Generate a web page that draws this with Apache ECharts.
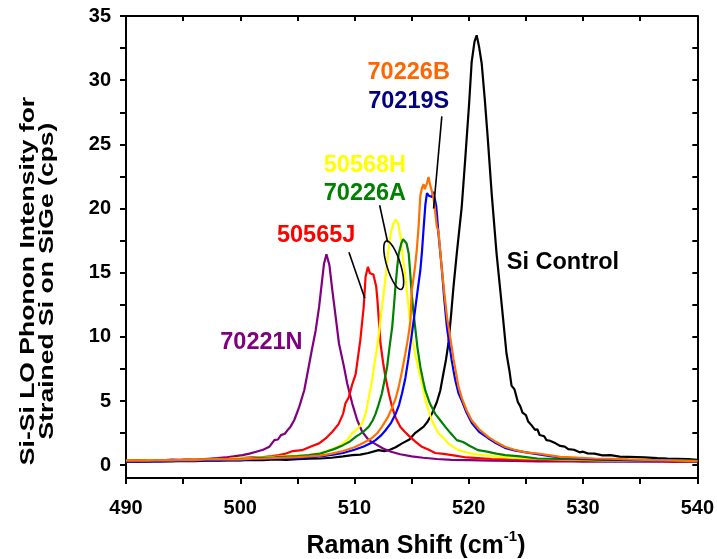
<!DOCTYPE html>
<html><head><meta charset="utf-8">
<script src="https://cdn.jsdelivr.net/npm/echarts@6/dist/echarts.min.js"></script>
<style>html,body{margin:0;padding:0;background:#fff}#c{width:717px;height:559px}</style>
</head><body><div id="c"></div>
<script>
// ---------- axis ticks / labels ----------
const xTickLabels = [490, 500, 510, 520, 530, 540];
const xTickMarks = [490, 495, 500, 505, 510, 515, 520, 525, 530, 535, 540];
const yTickLabels = [0, 5, 10, 15, 20, 25, 30, 35];
const yTickMarks = [0, 2.5, 5, 7.5, 10, 12.5, 15, 17.5, 20, 22.5, 25, 27.5, 30, 32.5, 35];

// ---------- series data (Raman shift, intensity) ----------
const xSiControl = [490,491,492,493,494,495,496,497,498,499,500,501,502,503,504,505,506,507,508,509,509.8,510.5,511.2,512.1,512.6,513.0,513.6,514.16,514.8,515.3,516.05,516.4,516.77,517.2,517.5,517.79,518.0,518.22,518.46,518.66,518.95,519.38,519.68,520.03,520.25,520.5,520.69,520.9,521.13,521.4,521.65,522.0,522.43,522.87,523.3,523.55,523.74,524.0,524.3,524.5,524.7,525.0,525.2,525.5,525.8,526.0,526.2,526.6,526.8,527.1,527.6,528.0,528.4,528.7,529.2,529.7,530.0,530.4,531.0,531.7,532.4,533.2,534.0,535.4,536.5,537.4,538.3,539.2,540];
const ySiControl = [0.28,0.3,0.27,0.32,0.3,0.33,0.31,0.36,0.35,0.38,0.37,0.41,0.4,0.44,0.42,0.46,0.5,0.52,0.58,0.68,0.78,0.82,0.95,1.17,1.1,1.17,1.4,1.7,2.0,2.5,3.0,3.4,4.0,4.9,5.8,7.2,8.2,9.5,11.8,13.9,16.5,20.1,23.75,28.2,31.4,33.0,33.5,32.6,31.3,28.5,25.6,21.2,16.5,12.6,8.7,7.4,6.2,5.9,4.9,4.6,4.1,3.9,3.4,3.1,2.75,2.8,2.35,2.25,1.95,1.9,1.7,1.5,1.45,1.25,1.2,1.0,1.05,0.92,0.9,0.76,0.78,0.66,0.64,0.6,0.55,0.52,0.5,0.48,0.42];

const x70221N = [490,490.8,491.6,492.4,493.2,494,494.8,495.6,496.4,497.2,498,498.7,499.4,500.2,500.8,501.4,502,502.54,502.98,503.3,503.56,503.9,504.14,504.4,504.72,505.16,505.6,505.88,506.26,506.6,506.9,507.13,507.33,507.54,507.8,508.06,508.35,508.64,509.08,509.36,509.8,510.24,510.67,511.25,511.84,512.5,513.2,514,515,516,517.2,518.5,520,522,524,526,528,530,532,534,536,538,540];
const y70221N = [0.33,0.36,0.34,0.4,0.37,0.43,0.41,0.46,0.45,0.5,0.55,0.6,0.68,0.78,0.9,1.05,1.2,1.43,1.95,2.0,2.34,2.45,2.73,3.0,3.5,4.54,5.84,7.14,8.96,10.5,12.33,14.15,15.7,16.43,15.6,13.6,11.55,9.48,7.66,6.36,4.8,3.5,2.6,1.95,1.64,1.3,1.05,0.85,0.68,0.58,0.48,0.42,0.4,0.36,0.33,0.3,0.32,0.28,0.3,0.27,0.29,0.26,0.27];

const x50565J = [490,491,492,493,494,495,496,497,498,499,500,501,502,502.8,503.4,504,504.6,505.4,506.3,506.9,507.5,508.06,508.6,509,509.2,509.5,509.8,510.1,510.3,510.5,510.65,510.8,510.97,511.17,511.35,511.5,511.65,511.78,511.9,512.0,512.27,512.5,512.7,513.0,513.3,513.6,514.0,514.4,514.74,515.3,515.9,516.5,517.06,517.8,518.8,519.8,520.8,522,523.5,525,527,529,531,533,535,537,540];
const y50565J = [0.35,0.33,0.38,0.36,0.4,0.41,0.45,0.44,0.5,0.52,0.55,0.6,0.62,0.7,0.78,0.91,1.1,1.17,1.5,1.7,2.1,2.6,3.2,4.0,4.8,5.3,6.3,7.1,8.4,9.7,11.0,12.3,14.7,15.45,14.95,15.1,14.85,14.7,13.9,12.9,9.5,8.0,6.9,5.6,4.5,3.7,3.0,2.6,2.3,1.85,1.43,1.2,0.95,0.88,0.75,0.6,0.55,0.48,0.45,0.43,0.4,0.38,0.36,0.34,0.33,0.32,0.3];

const x50568H = [490,491,492,493,494,495,496,497,498,499,500,501,502,503,504,505,506,507,507.8,508.5,509.0,509.4,509.8,510.2,510.67,511.0,511.25,511.5,511.7,511.9,512.1,512.3,512.56,512.8,513.0,513.2,513.4,513.58,513.8,514.0,514.2,514.45,514.7,514.9,515.1,515.3,515.5,515.76,516.0,516.2,516.5,516.77,517.05,517.35,517.8,518.2,518.6,519.1,519.6,520.25,521,522,523,524.5,526,528,530,532,534,536,538,540];
const y50568H = [0.36,0.34,0.38,0.4,0.37,0.42,0.44,0.43,0.48,0.5,0.55,0.56,0.6,0.65,0.7,0.74,0.78,0.95,1.17,1.4,1.7,2.0,2.5,2.8,3.25,4.1,5.3,6.4,7.65,8.7,10.0,11.6,13.4,15.3,17.0,18.2,18.8,19.15,18.9,18.0,16.4,14.7,12.6,10.8,9.6,8.7,7.9,6.9,6.0,5.1,4.2,3.5,3.0,2.5,2.1,1.7,1.45,1.17,1.05,0.9,0.8,0.7,0.62,0.55,0.5,0.45,0.42,0.38,0.36,0.34,0.33,0.32];

const x70226A = [490,491,492,493,494,495,496,497,498,499,500,501,502,503,504,505,506,507,507.5,508.2,509,509.6,510.1,510.7,511.25,511.6,511.84,512.1,512.4,512.6,512.85,513.05,513.3,513.45,513.58,513.72,513.87,514.1,514.25,514.39,514.55,514.74,514.87,515.0,515.15,515.3,515.5,515.76,516.0,516.2,516.6,517.06,517.5,517.93,518.4,518.95,519.5,520.1,520.8,521.6,522.4,523.2,524.5,526,528,530,532.5,535,537.5,540];
const y70226A = [0.34,0.37,0.33,0.38,0.36,0.41,0.4,0.45,0.44,0.48,0.5,0.53,0.58,0.6,0.66,0.7,0.78,0.9,1.04,1.25,1.56,1.85,2.2,2.55,3.0,3.5,4.0,4.7,5.6,6.5,7.65,9.1,10.8,12.4,13.9,15.3,16.5,17.3,17.6,17.65,17.3,16.5,15.0,13.4,12.0,10.8,9.2,7.65,6.6,5.8,4.8,4.0,3.5,3.0,2.5,1.95,1.8,1.5,1.17,1.05,0.9,0.78,0.68,0.52,0.48,0.45,0.4,0.37,0.35,0.33];

const x70219S = [490,491,492,493,494,495,496,497,498,499,500,501,502,503,504,505,506,507,508,509,510,510.8,511.4,511.84,512.3,512.7,513.2,513.6,513.9,514.16,514.45,514.7,515.0,515.3,515.55,515.76,515.9,516.05,516.2,516.34,516.5,516.65,516.8,516.9,517.0,517.15,517.35,517.64,517.85,518.08,518.3,518.5,518.8,519.1,519.4,519.8,520.25,520.9,521.7,522.4,523.16,524,525,526,527,528,530,532,534,536,538,540];
const y70219S = [0.3,0.28,0.32,0.3,0.33,0.35,0.34,0.38,0.37,0.4,0.4,0.44,0.46,0.5,0.52,0.55,0.6,0.68,0.8,0.95,1.2,1.45,1.7,1.95,2.3,2.7,3.3,4.0,4.7,5.6,6.8,8.2,10.1,12.1,13.8,15.2,16.6,18.5,20.3,21.2,21.0,21.1,20.9,21.3,21.2,20.2,18.0,15.3,13.0,10.8,9.4,8.2,6.7,5.6,5.0,4.1,3.3,2.6,2.1,1.7,1.35,1.15,1.0,0.85,0.72,0.6,0.5,0.45,0.4,0.36,0.33,0.3];

const x70226B = [490,491,492,493,494,495,496,497,498,499,500,501,502,503,504,505,506,507,508,509,510,510.8,511.5,512.0,512.4,512.9,513.3,513.6,513.87,514.15,514.45,514.7,514.9,515.0,515.3,515.45,515.6,515.76,515.9,516.05,516.15,516.25,516.35,516.48,516.6,516.7,516.9,517.05,517.2,517.35,517.64,517.85,518.1,518.4,518.66,518.9,519.1,519.4,519.8,520.25,520.9,521.7,522.4,523.16,524,525,526.06,527,528,529.5,531,532.4,534,536,538,540];
const y70226B = [0.36,0.38,0.35,0.4,0.38,0.42,0.4,0.45,0.44,0.47,0.45,0.5,0.52,0.56,0.58,0.62,0.68,0.75,0.9,1.1,1.4,1.75,2.1,2.5,3.0,3.7,4.5,5.2,6.1,7.3,8.7,10.0,11.3,13.5,15.5,16.8,18.5,21.0,21.6,21.9,21.5,21.6,22.0,22.45,21.9,21.8,20.9,19.8,18.6,18.2,15.3,13.5,11.5,9.8,8.3,7.1,6.1,5.2,4.3,3.5,2.8,2.2,1.8,1.43,1.2,1.0,0.91,0.78,0.65,0.58,0.52,0.5,0.45,0.4,0.36,0.32];

// ---------- chart ----------
const FONT = '"Liberation Sans", Arial, sans-serif';
const chart = echarts.init(document.getElementById('c'), null, {renderer: 'canvas'});
const pairs = (xs, ys) => xs.map((x, i) => [x, ys[i]]);

const seriesDefs = [
  {name: 'Si Control', xs: xSiControl, ys: ySiControl, color: '#000000'},
  {name: '70221N', xs: x70221N, ys: y70221N, color: '#800080'},
  {name: '50565J', xs: x50565J, ys: y50565J, color: '#FF0000'},
  {name: '50568H', xs: x50568H, ys: y50568H, color: '#FFFF00'},
  {name: '70226A', xs: x70226A, ys: y70226A, color: '#008000'},
  {name: '70219S', xs: x70219S, ys: y70219S, color: '#0000FF'},
  {name: '70226B', xs: x70226B, ys: y70226B, color: '#FF7000'}
];

const axisLine = {show: true, onZero: false, lineStyle: {color: '#000', width: 2}};
const tickStyle = {color: '#000', width: 2};

chart.setOption({
  animation: false,
  backgroundColor: '#fff',
  grid: {left: 126, right: 17, top: 16, bottom: 81, containLabel: false},
  xAxis: [
    {type: 'value', min: 490, max: 540, interval: 10, position: 'bottom',
     axisLine: axisLine,
     axisTick: {show: true, inside: false, length: 6, lineStyle: tickStyle, customValues: xTickMarks},
     axisLabel: {show: true, customValues: xTickLabels, margin: 20, color: '#000',
                 fontFamily: FONT, fontWeight: 'bold', fontSize: 20},
     splitLine: {show: false}},
    {type: 'value', min: 490, max: 540, interval: 10, position: 'top',
     axisLine: axisLine,
     axisTick: {show: true, inside: true, length: 5, lineStyle: tickStyle, customValues: xTickMarks},
     axisLabel: {show: false}, splitLine: {show: false}}
  ],
  yAxis: [
    {type: 'value', min: -1, max: 35, position: 'left',
     axisLine: axisLine,
     axisTick: {show: true, inside: false, length: 6, lineStyle: tickStyle, customValues: yTickMarks},
     axisLabel: {show: true, customValues: yTickLabels, margin: 15, color: '#000', padding: [14, 0, 0, 0],
                 fontFamily: FONT, fontWeight: 'bold', fontSize: 20},
     splitLine: {show: false}},
    {type: 'value', min: -1, max: 35, position: 'right',
     axisLine: axisLine,
     axisTick: {show: true, inside: true, length: 5, lineStyle: tickStyle, customValues: yTickMarks},
     axisLabel: {show: false}, splitLine: {show: false}}
  ],
  series: seriesDefs.map(s => ({
    name: s.name, type: 'line', xAxisIndex: 0, yAxisIndex: 0,
    data: pairs(s.xs, s.ys), showSymbol: false, symbol: 'none',
    lineStyle: {color: s.color, width: 2.2}, itemStyle: {color: s.color},
    clip: true, silent: true
  }))
});

// ---------- annotations (positions in data coordinates) ----------
const annotTexts = [
  {text: '70226B', at: [514.74, 30.61], color: '#FF6600'},
  {text: '70219S', at: [514.74, 28.35], color: '#000080'},
  {text: '50568H', at: [510.91, 23.36], color: '#FFFF00'},
  {text: '70226A', at: [510.91, 21.18], color: '#008000'},
  {text: '50565J', at: [506.64, 17.91], color: '#FF0000'},
  {text: '70221N', at: [501.85, 9.58], color: '#800080'},
  {text: 'Si Control', at: [528.24, 15.81], color: '#000000'}
];
const annotLines = [
  [[517.64, 27.18], [516.92, 20.0]],
  [[509.51, 16.59], [510.9, 13.0]],
  [[512.2, 20.25], [512.9, 17.37]]
];
const ellipseCenter = [513.43, 15.58];

const toPx = p => chart.convertToPixel({xAxisIndex: 0, yAxisIndex: 0}, p);
const graphics = [];
annotTexts.forEach(a => {
  const p = toPx(a.at);
  graphics.push({type: 'text', x: p[0], y: p[1], silent: true, z: 100,
    style: {text: a.text, fill: a.color, font: 'bold 23.5px ' + FONT, textAlign: 'center', textVerticalAlign: 'middle'}});
});
annotLines.forEach(l => {
  const p1 = toPx(l[0]), p2 = toPx(l[1]);
  graphics.push({type: 'line', silent: true, z: 100,
    shape: {x1: p1[0], y1: p1[1], x2: p2[0], y2: p2[1]}, style: {stroke: '#000', lineWidth: 1.6}});
});
(function () {
  const c = toPx(ellipseCenter);
  const a = 25.3, b = 6.8, ang = 17.3 * Math.PI / 180; // major axis tilt from vertical
  const pts = [];
  for (let i = 0; i < 64; i++) {
    const t = i / 64 * 2 * Math.PI;
    const u = b * Math.cos(t), v = a * Math.sin(t);
    pts.push([c[0] + u * Math.cos(ang) + v * Math.sin(ang), c[1] + v * Math.cos(ang) - u * Math.sin(ang)]);
  }
  graphics.push({type: 'polygon', silent: true, z: 100, shape: {points: pts},
    style: {fill: 'none', stroke: '#000', lineWidth: 1.6}});
})();

// y axis title (two lines, rotated)
graphics.push({type: 'text', x: 38, y: 281, rotation: Math.PI / 2, scaleX: 1.36, scaleY: 1, silent: true,
  style: {text: 'Si-Si LO Phonon Intensity for\nStrained Si on SiGe (cps)', fill: '#000',
          font: 'bold 19.5px ' + FONT, lineHeight: 19.5, textAlign: 'center', textVerticalAlign: 'middle'}});

// x axis title with superscript
(function () {
  const ctx = document.createElement('canvas').getContext('2d');
  const mainFont = 'bold 25px ' + FONT, supFont = 'bold 15px ' + FONT;
  ctx.font = mainFont; const w1 = ctx.measureText('Raman Shift (cm').width, w3 = ctx.measureText(')').width;
  ctx.font = supFont; const w2 = ctx.measureText('-1').width;
  const total = w1 + w2 + w3, x0 = 416 - total / 2, yc = 546;
  graphics.push({type: 'text', x: x0, y: yc, silent: true, style: {text: 'Raman Shift (cm', fill: '#000', font: mainFont, textAlign: 'left', textVerticalAlign: 'middle'}});
  graphics.push({type: 'text', x: x0 + w1, y: yc - 9, silent: true, style: {text: '-1', fill: '#000', font: supFont, textAlign: 'left', textVerticalAlign: 'middle'}});
  graphics.push({type: 'text', x: x0 + w1 + w2, y: yc, silent: true, style: {text: ')', fill: '#000', font: mainFont, textAlign: 'left', textVerticalAlign: 'middle'}});
})();

chart.setOption({graphic: graphics});
</script>
</body></html>
